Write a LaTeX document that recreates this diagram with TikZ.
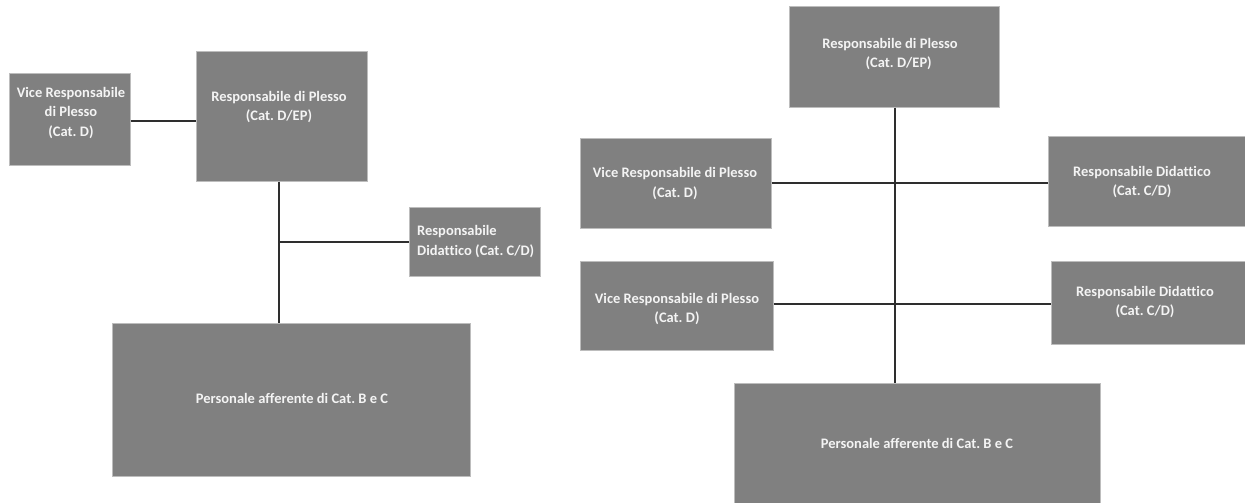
\documentclass[tikz,border=0pt]{standalone}
\usepackage{fontspec}
\setmainfont[Ligatures={NoCommon}]{Carlito}
\frenchspacing
\definecolor{boxgray}{HTML}{808080}
\definecolor{boxedge}{HTML}{BDBDBD}
\definecolor{txtcol}{HTML}{F4F4F4}
\definecolor{linecol}{HTML}{2E2E2E}
\tikzset{
  box/.style={rectangle, fill=boxgray, draw=boxedge, line width=0.6pt, inner sep=0pt, anchor=north west},
  txt/.style={text=txtcol, font=\fontsize{14.5}{19.5}\selectfont\bfseries, align=center, inner sep=0pt},
  conn/.style={draw=linecol, line width=1.1pt}
}
\begin{document}
\begin{tikzpicture}[x=1pt,y=-1pt]
\useasboundingbox[fill=white] (0,0) rectangle (1245,503);
% ---------- left diagram ----------
\node[box, minimum width=121pt, minimum height=92pt] (lvrp) at (9,73) {};
\node[box, minimum width=171pt, minimum height=130pt] (lrp) at (196,51) {};
\node[box, minimum width=131pt, minimum height=69pt] (lrd) at (409,207) {};
\node[box, minimum width=358pt, minimum height=153pt] (lpers) at (112,323) {};
\node[txt] (lvrpt) at (71,113) {Vice Responsabile\\di Plesso\\(Cat. D)};
\node[txt] (lrpt) at (279,107) {Responsabile di Plesso\\(Cat. D/EP)};
\node[txt, align=left, anchor=west] (lrdt) at (417,241.5) {Responsabile\\Didattico (Cat. C/D)};
\node[txt] (lperst) at (292,398) {Personale afferente di Cat. B e C};
\coordinate (lk) at (0,121);
\coordinate (lj) at (279,242);
\draw[conn] (lvrp.east |- lk) -- (lrp.west |- lk);
\draw[conn] (lrp.south -| lj) -- (lpers.north -| lj);
\draw[conn] (lj) -- (lj -| lrd.west);
% ---------- right diagram ----------
\node[box, minimum width=210pt, minimum height=101pt] (rrp) at (789,6) {};
\node[box, minimum width=191pt, minimum height=90pt] (rvrpa) at (580,138) {};
\node[box, minimum width=198pt, minimum height=90pt] (rrda) at (1048,136) {};
\node[box, minimum width=193pt, minimum height=89pt] (rvrpb) at (580,261) {};
\node[box, minimum width=195pt, minimum height=83pt] (rrdb) at (1051,261) {};
\node[box, minimum width=366pt, minimum height=121pt] (rpers) at (734,383) {};
\node[txt] (rrpt) at (890,54) {Responsabile di Plesso\\\hspace*{1.2em}(Cat. D/EP)};
\node[txt] (rvrpat) at (675,183.5) {Vice Responsabile di Plesso\\(Cat. D)};
\node[txt] (rrdat) at (1142,182) {Responsabile Didattico\\(Cat. C/D)};
\node[txt] (rvrpbt) at (677,309) {Vice Responsabile di Plesso\\(Cat. D)};
\node[txt] (rrdbt) at (1145,302) {Responsabile Didattico\\(Cat. C/D)};
\node[txt] (rperst) at (917,443) {Personale afferente di Cat. B e C};
\coordinate (rv) at (895,0);
\coordinate (rha) at (0,183);
\coordinate (rhb) at (0,304);
\draw[conn] (rrp.south -| rv) -- (rpers.north -| rv);
\draw[conn] (rvrpa.east |- rha) -- (rrda.west |- rha);
\draw[conn] (rvrpb.east |- rhb) -- (rrdb.west |- rhb);
\end{tikzpicture}
\end{document}
